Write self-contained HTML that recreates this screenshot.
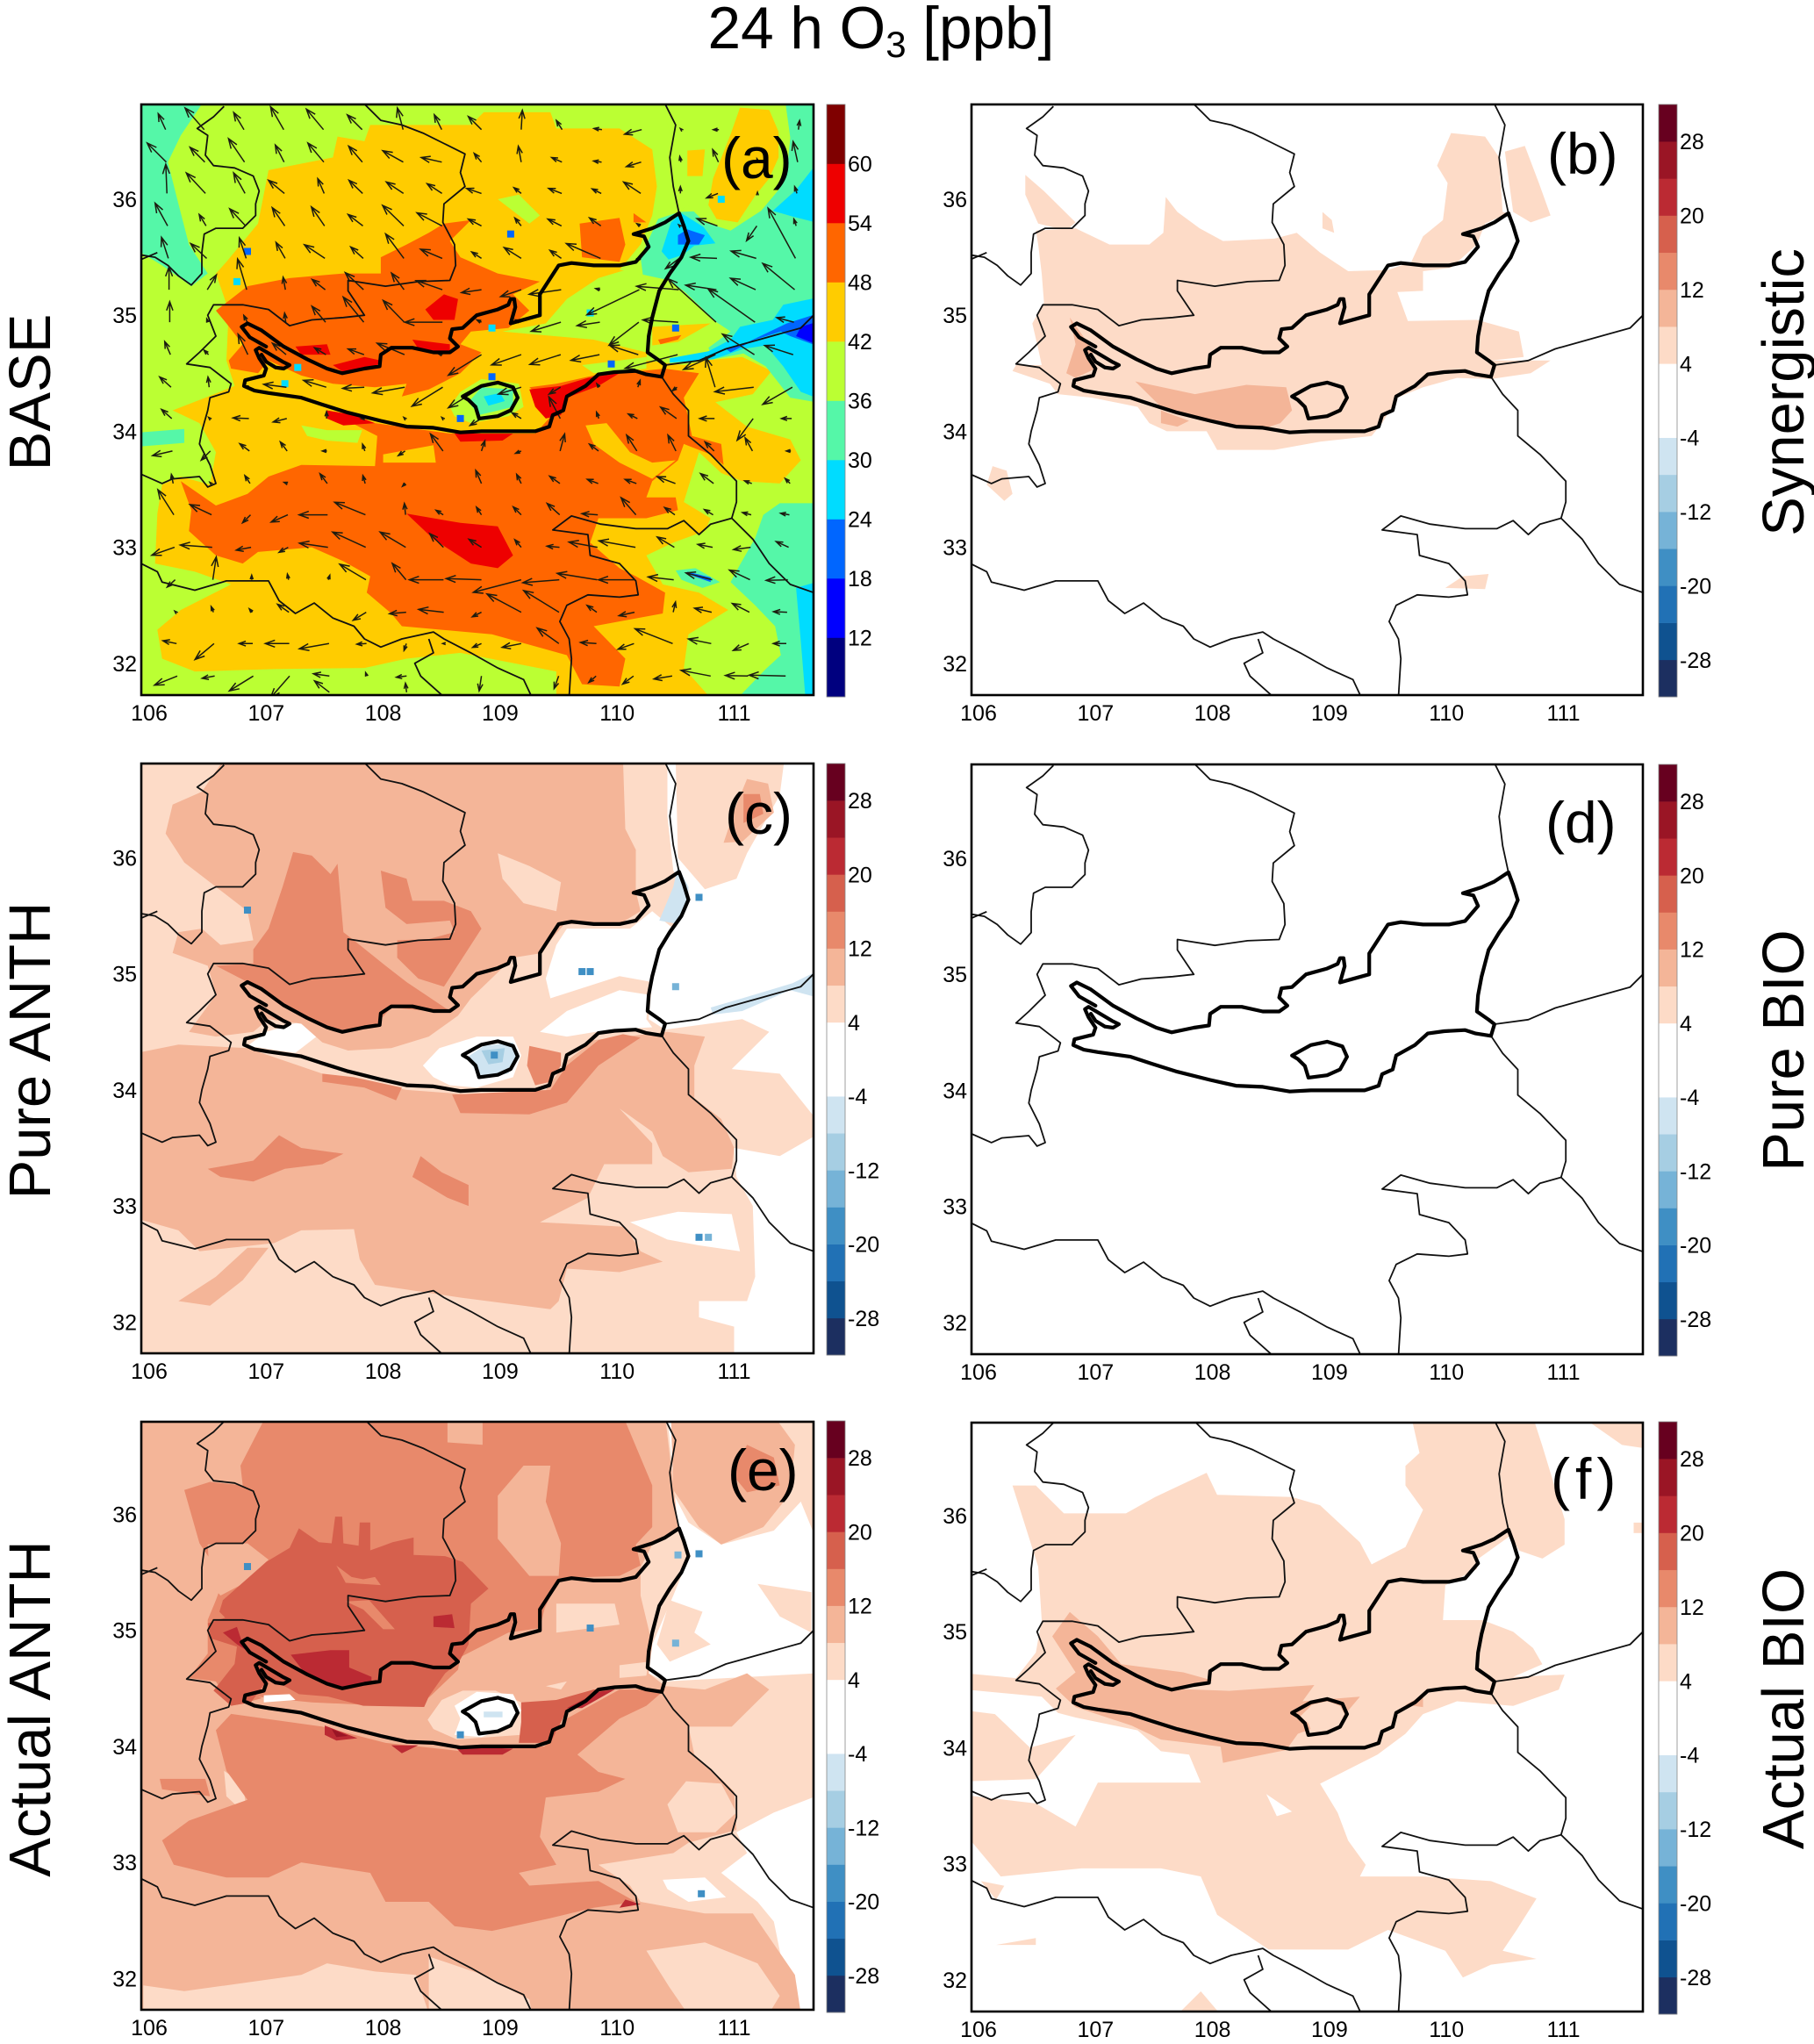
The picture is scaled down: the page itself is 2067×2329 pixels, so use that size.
<!DOCTYPE html>
<html>
<head>
<meta charset="utf-8">
<title>24 h O3</title>
<style>
html,body{margin:0;padding:0;background:#fff;}
svg{display:block;font-family:"Liberation Sans",sans-serif;}
</style>
</head>
<body>
<svg id="fig" xmlns="http://www.w3.org/2000/svg" width="2067" height="2329" viewBox="0 0 2067 2329">
<rect width="2067" height="2329" fill="#fff"/>
<g id="panels"></g>
<text x="1004" y="55" font-size="67.5" text-anchor="middle">24 h O<tspan font-size="42" dy="10">3</tspan><tspan dy="-10"> [ppb]</tspan></text>
<text transform="translate(57,447) rotate(-90)" font-size="67" text-anchor="middle">BASE</text>
<text transform="translate(57,1197) rotate(-90)" font-size="67" text-anchor="middle">Pure ANTH</text>
<text transform="translate(57,1947) rotate(-90)" font-size="67" text-anchor="middle">Actual ANTH</text>
<text transform="translate(2055,447) rotate(-90)" font-size="67" text-anchor="middle">Synergistic</text>
<text transform="translate(2055,1197) rotate(-90)" font-size="67" text-anchor="middle">Pure BIO</text>
<text transform="translate(2055,1947) rotate(-90)" font-size="67" text-anchor="middle">Actual BIO</text>
<text x="822" y="203" font-size="66">(a)</text>
<text x="1763" y="198" font-size="66">(b)</text>
<text x="826" y="950" font-size="66">(c)</text>
<text x="1761" y="960" font-size="66">(d)</text>
<text x="829" y="1698" font-size="66">(e)</text>
<text x="1767" y="1708" font-size="66" letter-spacing="6">(f)</text>
</svg>
<script>
// Axis ticks
const lonTicks=[106,107,108,109,110,111];
const latTicks=[36,35,34,33,32];
// Colour scale labels
const baseLevels=[12,18,24,30,36,42,48,54,60];
const diffLevels=[28,20,12,4,-4,-12,-20,-28];
const baseColors=['#00007f','#0000ff','#0066ff','#00dcff','#55f7a8','#bbff33','#ffcc00','#ff6600','#ee0000','#7f0000'];
const diffColors=['#1c2f60','#0f5290','#2171b5','#3f8fc4','#76b3d7','#a6cee3','#cfe4f1','#ffffff','#ffffff','#fddbc7','#f4b598','#e8896b','#d6604d','#bb2a33','#9a1525','#67001f'];

// Geographic outlines [lon,lat,...]
const basinOutline=[106.84,34.93,106.96,34.87,107.15,34.73,107.35,34.62,107.52,34.54,107.65,34.50,107.84,34.54,107.97,34.56,107.98,34.66,108.07,34.72,108.25,34.72,108.43,34.68,108.57,34.68,108.64,34.73,108.57,34.80,108.59,34.88,108.68,34.89,108.80,35.00,108.98,35.05,109.07,35.09,109.09,35.14,109.12,35.14,109.13,35.07,109.09,34.93,109.16,34.95,109.34,35.00,109.34,35.18,109.41,35.29,109.50,35.43,109.61,35.45,109.80,35.43,110.02,35.43,110.16,35.46,110.27,35.59,110.23,35.68,110.14,35.70,110.30,35.75,110.41,35.80,110.53,35.88,110.57,35.77,110.61,35.64,110.55,35.50,110.45,35.36,110.36,35.21,110.30,34.98,110.27,34.82,110.26,34.68,110.36,34.61,110.41,34.57,110.38,34.47,110.25,34.49,110.16,34.52,109.98,34.51,109.84,34.49,109.73,34.39,109.57,34.30,109.54,34.18,109.45,34.14,109.42,34.04,109.30,34.00,109.07,34.00,108.84,34.00,108.66,33.99,108.43,34.03,108.20,34.04,107.98,34.09,107.70,34.16,107.48,34.23,107.30,34.29,107.02,34.33,106.90,34.35,106.81,34.39,106.82,34.44,106.98,34.48,107.00,34.54,106.94,34.63,106.91,34.70,106.94,34.72,106.99,34.69,107.14,34.60,107.20,34.57,107.15,34.54,107.08,34.55,107.00,34.60,106.96,34.66];
const basinArm=[106.84,34.93,106.79,34.90,106.86,34.81,107.00,34.73];
const cityLoop=[108.68,34.30,108.84,34.39,108.98,34.42,109.11,34.38,109.15,34.29,109.09,34.18,108.98,34.13,108.82,34.11,108.79,34.21,108.73,34.27,108.68,34.30];
const border1=[106.64,36.80,106.55,36.71,106.41,36.61,106.50,36.55,106.48,36.38,106.55,36.29,106.73,36.27,106.89,36.20,106.94,36.07,106.91,35.96,106.91,35.86,106.80,35.75,106.57,35.75,106.47,35.70,106.45,35.54,106.45,35.36,106.36,35.26,106.25,35.34,106.16,35.43,106.05,35.50,105.93,35.52];
const border1b=[105.93,35.48,106.07,35.54];
const border2=[107.84,36.82,107.98,36.68,108.16,36.64,108.34,36.57,108.52,36.48,108.70,36.39,108.66,36.23,108.70,36.11,108.52,35.96,108.51,35.80,108.61,35.61,108.62,35.43,108.57,35.30,108.30,35.29,108.02,35.25,107.70,35.30,107.70,35.21,107.84,35.00,107.66,34.98,107.39,34.96,107.20,34.91,107.02,35.05,106.80,35.09,106.55,35.09,106.50,35.00,106.57,34.82,106.43,34.68,106.32,34.58,106.52,34.55,106.70,34.41,106.68,34.34,106.52,34.29,106.50,34.18,106.45,34.00,106.43,33.89,106.52,33.71,106.57,33.55,106.50,33.52,106.43,33.61,106.20,33.59,106.11,33.55,105.93,33.63];
const border3=[110.41,36.82,110.50,36.64,110.45,36.36,110.48,36.11,110.53,35.88];
const border4=[110.41,34.57,110.70,34.61,110.93,34.71,111.25,34.80,111.57,34.89,111.68,35.00];
const border5=[110.38,34.47,110.48,34.32,110.61,34.18,110.61,33.96,110.80,33.80,111.02,33.57,111.02,33.39,110.98,33.25,111.16,33.07,111.30,32.86,111.48,32.68,111.68,32.61];
const border6=[110.98,33.25,110.80,33.20,110.70,33.11,110.57,33.23,110.43,33.16,110.16,33.16,109.86,33.20,109.61,33.27,109.45,33.15,109.75,33.11,109.77,32.93,110.02,32.86,110.16,32.71,110.18,32.59,110.02,32.57,109.75,32.59,109.57,32.50,109.51,32.36,109.59,32.21,109.61,32.04,109.59,31.71];
const border7=[105.93,32.86,106.07,32.79,106.11,32.70,106.39,32.63,106.66,32.71,107.02,32.71,107.11,32.54,107.25,32.43,107.41,32.52,107.57,32.39,107.75,32.32,107.84,32.21,107.98,32.14,108.16,32.21,108.43,32.27,108.52,32.21,108.75,32.09,108.98,31.96,109.20,31.86,109.27,31.71];
const border8=[108.39,32.21,108.43,32.09,108.27,32.00,108.32,31.89,108.52,31.71];

// Panel (a) contour regions [lon,lat,...]
const aYellow=[107.02,36.25,107.57,36.36,107.61,36.54,107.84,36.50,107.89,36.64,108.75,36.64,108.86,36.75,109.43,36.75,109.48,36.61,110.02,36.61,110.30,36.43,110.34,36.11,110.30,35.86,110.20,35.61,110.02,35.39,110.30,35.36,110.25,34.61,110.57,34.57,110.75,34.61,111.07,34.64,111.32,34.52,111.16,34.32,110.84,34.25,111.11,34.04,111.48,33.93,111.57,33.75,111.39,33.55,111.07,33.57,110.89,33.64,110.70,33.82,110.57,33.39,110.80,33.25,110.75,33.14,110.48,33.04,110.25,32.93,110.39,32.68,110.70,32.61,110.95,32.46,110.61,32.25,110.57,31.96,110.80,31.70,109.48,31.70,109.48,31.93,108.66,32.09,108.20,32.04,107.84,31.96,107.07,31.95,106.39,31.93,106.11,32.04,106.07,32.29,106.27,32.46,106.70,32.68,106.39,32.79,106.05,32.86,106.07,33.29,106.11,33.54,106.27,33.61,106.52,33.54,106.57,33.82,106.43,34.07,106.20,34.18,106.48,34.29,106.73,34.39,106.66,34.61,106.68,35.04,106.57,35.36,106.66,35.46,106.93,35.79];
const aRing=[110.39,36.82,111.44,36.82,111.48,36.53,111.45,36.23,111.38,36.08,111.23,35.90,110.97,35.73,110.75,35.80,110.60,35.95,110.53,35.89,110.45,36.56];
const aBlobYellow=[111.05,36.79,111.30,36.77,111.38,36.58,111.38,36.36,111.30,36.18,111.18,36.03,111.03,35.80,110.85,35.83,110.78,35.95,110.82,36.18,110.88,36.33,110.97,36.56];
const aSmallYellow=[110.60,36.42,110.75,36.43,110.73,36.20,110.60,36.20];
const aLime1=[110.30,35.46,109.84,35.32,109.57,35.14,109.39,34.93,109.02,34.86,109.80,34.79,110.25,34.68,110.30,34.96];
const aLime2=[108.57,34.21,108.66,34.34,108.84,34.45,109.16,34.41,109.20,34.21,109.07,34.13,108.75,34.07,108.61,34.13];
const aLime3=[108.98,36.00,109.16,36.04,109.34,35.86,109.25,35.79];
const aLime4=[110.02,34.61,110.25,34.64,110.25,34.54,109.80,34.50,109.70,34.57];
const aLime5=[107.30,34.05,107.52,34.01,107.82,34.01,107.78,33.90,107.52,33.92,107.35,33.96];
const aTeal1=[105.93,36.82,106.45,36.82,106.27,36.55,106.16,36.32,106.25,35.96,106.34,35.61,106.50,35.36,106.36,35.25,106.11,35.43,105.93,35.54];
const aTeal2=[111.34,36.82,111.70,36.82,111.70,34.25,111.48,34.29,111.27,34.56,111.08,34.67,110.82,34.62,110.78,34.72,110.97,34.86,110.85,34.94,110.58,35.20,110.45,35.30,110.22,35.35,110.20,35.50,110.35,35.83,110.53,35.89,110.75,35.90,111.00,36.30];
const aTeal3=[111.70,33.38,111.39,33.38,111.25,33.28,111.18,33.08,111.05,32.85,110.97,32.70,111.18,32.50,111.35,32.32,111.40,32.07,111.27,31.95,111.03,31.70,111.70,31.70];
const aTeal4=[105.93,33.99,106.30,34.02,106.30,33.90,105.93,33.87];
const aTealSpot=[110.50,32.80,110.67,32.82,110.88,32.70,110.73,32.65,110.55,32.72];
const aBlueSpot=[110.60,32.79,110.80,32.74,110.80,32.70,110.60,32.77];
const aCyanRight=[111.53,32.65,111.70,32.70,111.70,31.70,111.61,31.70,111.57,32.19];
const aCyan1=[110.45,34.63,110.78,34.69,110.97,34.79,111.05,34.90,111.33,34.96,111.42,35.09,111.70,35.15,111.70,34.29,111.57,34.34,111.42,34.56,111.27,34.74,111.08,34.71,110.82,34.62,110.45,34.59];
const aBlue1=[110.93,34.71,111.12,34.77,111.45,34.93,111.70,35.01,111.70,34.74,111.48,34.82,111.40,34.86,111.18,34.79,110.97,34.68];
const aDeep1=[111.57,34.90,111.70,34.94,111.70,34.75,111.53,34.82];
const aCyan2=[110.55,35.88,110.74,35.76,110.84,35.62,110.66,35.60,110.56,35.52,110.44,35.48,110.38,35.55,110.46,35.80];
const aCyan3=[111.33,35.90,111.53,36.08,111.70,36.30,111.70,35.80,111.50,35.85];
const aBlue2=[110.52,35.69,110.60,35.74,110.75,35.69,110.70,35.61,110.59,35.61,110.52,35.61];
const aYellow4=[110.30,34.90,110.80,34.93,110.52,34.77,110.30,34.74];
const aOrange5=[110.35,34.79,110.55,34.83,110.52,34.79,110.37,34.75];
const aOrange1=[106.70,35.14,106.84,35.25,107.20,35.32,107.66,35.36,107.98,35.36,107.98,35.50,108.20,35.61,108.39,35.71,108.52,35.79,108.75,35.82,108.57,35.64,108.66,35.50,108.98,35.36,109.34,35.29,109.11,35.18,109.25,35.04,109.07,34.89,108.75,34.86,108.66,34.75,108.84,34.68,108.66,34.50,108.39,34.36,108.16,34.30,108.20,34.41,107.93,34.38,107.57,34.41,107.30,34.48,107.02,34.61,106.93,34.50,106.70,34.54,106.68,34.61,106.80,34.75,106.66,34.93,106.57,35.04];
const aOrange2=[107.52,34.18,107.93,34.07,108.57,33.98,109.30,33.98,109.48,34.18,109.25,34.38,109.48,34.41,109.84,34.49,110.20,34.52,110.41,34.54,110.70,34.50,110.57,34.29,110.64,33.96,110.89,33.89,110.91,33.71,110.80,33.80,110.57,33.89,110.52,33.75,110.30,33.57,110.25,33.43,110.50,33.43,110.52,33.32,110.25,33.25,109.84,33.25,109.77,33.04,110.02,32.82,110.16,32.75,110.41,32.61,110.39,32.43,109.80,32.32,110.07,32.04,110.02,31.80,109.70,31.82,109.57,32.07,108.93,32.25,108.16,32.32,108.07,32.43,107.86,32.61,107.89,32.75,107.66,32.88,107.39,33.00,106.93,32.96,106.80,32.86,106.57,32.93,106.34,33.14,106.36,33.32,106.27,33.57,106.57,33.36,106.84,33.46,107.02,33.61,107.30,33.71,107.93,33.70,107.95,33.96];
const aOrange3=[109.68,35.79,110.02,35.84,110.07,35.61,110.02,35.46,109.70,35.50];
const aOrange4=[110.14,35.88,110.25,35.80,110.14,35.80];
const aYellow2=[108.00,33.80,108.43,33.88,108.45,33.73,108.00,33.73];
const aYellow3=[109.73,34.05,109.91,34.07,110.11,33.82,110.30,33.73,110.50,33.75,110.30,33.59,110.02,33.73,109.80,33.89];
const aRed1=[108.20,33.29,108.66,33.21,108.98,33.18,109.11,32.93,108.98,32.82,108.75,32.86,108.43,33.07];
const aRed2=[108.36,35.05,108.52,35.18,108.64,35.14,108.61,34.96,108.43,34.96];
const aRed3=[107.57,34.57,107.84,34.64,107.98,34.61,107.95,34.57,107.66,34.51];
const aRed4=[107.25,34.73,107.52,34.75,107.55,34.66,107.30,34.66];
const aRed5=[108.25,34.79,108.57,34.75,108.57,34.68,108.30,34.71];
const aRed6=[109.25,34.36,109.52,34.39,109.75,34.46,110.02,34.50,109.84,34.39,109.57,34.29,109.52,34.14,109.39,34.11,109.30,34.21];
const aRed7=[107.52,34.18,107.75,34.14,107.93,34.07,107.66,34.05,107.52,34.11];
const aRed8=[108.61,33.98,109.11,33.98,109.02,33.92,108.66,33.91];
const aLake=[108.73,34.25,108.84,34.38,109.11,34.36,109.11,34.21,108.82,34.14];
const aLakeCyan=[108.86,34.30,109.00,34.33,109.04,34.26,108.90,34.22];
const aDots=[106.84,35.55,2,106.75,35.29,3,109.09,35.70,2,110.50,34.89,2,109.77,35.02,3,108.93,34.89,3,108.93,34.47,2,107.27,34.55,3,107.16,34.41,3,109.95,34.58,2,108.66,34.11,2,111.61,36.11,3,110.89,36.00,3];

// Wind field: grid columns at the north and south of the domain, rows, and vector components
const windLonsNorth=[106.14,106.47,106.81,107.15,107.49,107.82,108.17,108.5,108.84,109.18,109.53,109.87,110.21,110.55,110.87,111.21,111.55];
const windLonsSouth=[106.24,106.56,106.89,107.2,107.54,107.86,108.2,108.52,108.84,109.18,109.5,109.82,110.14,110.47,110.8,111.12,111.44];
const windLats=[36.60,36.32,36.05,35.77,35.49,35.22,34.94,34.66,34.38,34.11,33.83,33.55,33.28,33.00,32.72,32.44,32.17,31.89,31.75];
const windU=[
[-.64,-1.67,-.9,-1.15,-1.5,-1.3,-.5,-.64,-1.15,.1,-.5,-.7,-1.5,-.1,-.5,0,.1],
[-1.67,-1.3,-1.4,-.77,-1.4,-1.2,-1.8,-1.8,-.64,-.25,-.9,-.7,-1.3,-.1,-.5,-.1,-.4],
[-.1,-1.67,-1,-1.4,-.56,-1.2,-1.5,-1.3,-1.3,-.64,-1.15,-.8,-1.5,0,-1,0,-.2],
[-1.1,-.6,-1.4,-1.1,-1.15,-1.3,-1.85,-2.2,-1.15,-.56,-1.2,-1,-.3,-.1,-1.8,-.9,-.2],
[-.6,-1.4,-.6,-.8,-1.8,-1.1,-1.6,-1.9,-.85,-1.5,-1,-3,-.2,-1.2,-2.3,-2.2,-2.4],
[0,.8,-.8,-.2,-1.15,-1.6,-1.1,-2.3,-1.75,-1.8,-2.8,-.4,-4.6,-3.7,-2.7,-2.2,-2.8],
[0,-.1,-.3,-.1,-1.2,-1.8,-1.85,-3.3,-.4,-.5,-2.6,-2,-2.6,-3.1,-4.2,-4.1,-1.5],
[-.5,-.4,-.85,-1.2,-1,-1.4,-2.4,-.4,-2.9,-2.6,-2.7,-2.5,-2.5,-4.6,-2.8,-2.8,-2.5],
[-1,-.1,-.3,-2,-2,-1.9,-2.8,-2.7,-2.9,-2,-1,-.2,.2,-.4,-.8,-3.4,-2.6],
[-.9,-.1,-1.4,-1.2,0,-.3,-.1,-.1,-1,-.8,-1,-.2,-.8,-1.4,-1.3,-1.4,-.9],
[-1.75,-.8,-.85,-.6,-.4,-.2,-.6,-1.1,.3,-.5,.4,-.8,-.9,-.7,-.8,-.64,-.4],
[-.15,-.1,-.45,-.3,-.64,-.2,-.25,0,-.5,-.4,-.9,-.95,-1,-1.6,-1.15,-.64,-.44],
[-1.4,-1.9,-.7,-1.46,-2.5,-2.7,-.1,-.64,-.44,-.7,-1.1,-1.4,-1.3,-.9,-.77,-.77,-.77],
[-2,-2.8,-1.3,-.8,-2.5,-2.9,-2.25,-1.2,-1.1,-.56,-1.1,-2.5,-3.2,-1.5,-1.3,-1.5,-1.1],
[-.7,.3,0,-.1,.13,-2.3,-1.2,-3,-3.1,-4.2,-3.2,-3.5,-3.2,-2.25,-2.3,-1.8,-1.9],
[-.1,-.2,-.25,-1,0,-1.15,-1.46,-2.2,-.8,-3,-3.1,-.85,-1.36,.2,-1.5,-1.5,-1.2],
[-1.2,-1.67,-1.2,-2.1,-2.6,-.85,-.2,-.1,-.77,-1.67,-1.9,-1.4,-1.4,-3.3,-2,-1.36,-1.15],
[-2,-1.1,-2.1,-1.67,-1.4,-.1,-.9,0,-.2,0,-.4,-.64,-.95,-1.6,-2.6,-2,-3.2],
[0,0,0,0,-1.3,0,-.1,0,0,0,0,0,0,0,0,0,0]];
const windV=[
[1.4,1.9,1.5,2,1.8,1.3,1.9,1.3,1.15,1.7,.8,.1,-.4,.1,0,0,.8],
[1.67,1.3,2.05,1.5,1.67,1.4,1,.4,.77,1.4,.4,.1,-.4,.5,1.1,.3,1.8],
[2.56,1.8,1.8,1.15,1.3,1.15,1,.85,.44,.5,.44,.4,1,.6,-.4,.1,.6],
[2,1,1.5,1.6,1.67,1,1.8,1.15,.6,.7,.6,.7,.2,.1,.64,-1.3,.6],
[1.85,1.3,1.8,1.4,1.2,1,2.15,.8,.56,.95,.7,1.3,0,-.9,.1,.64,4.4],
[2,1.3,2.7,1.1,.9,1.5,1.46,.8,-.25,-.6,-.4,.1,-2.2,.3,.4,1,2.3],
[1.8,.3,.6,.8,1.4,2.2,1.9,0,.2,.2,-.8,-.3,-2,.2,3.8,2.9,.4],
[1.15,.4,1.8,1,.6,.5,1,.1,-1.8,-.9,-.85,-.5,.8,-1.2,-1.3,1.8,.8],
[.9,.9,.1,.25,.6,-.1,-.5,-1.67,-1.8,-.6,-.6,.3,.6,-.3,2.6,-.4,-1.5],
[.8,.1,.05,-.3,.6,0,.1,.1,-.6,.5,1.9,.56,.4,1,0,-1.9,0],
[-.4,-.8,.64,.8,0,.6,-.4,1.5,.9,-.2,1.5,.6,1.4,1.4,.8,1.15,0],
[.8,.1,.7,.1,.85,.7,-.25,0,1.15,.8,.64,.36,.36,.6,.87,.23,.44],
[2.2,.9,-.7,-.64,0,1.1,1,.4,.67,.7,1,.1,1.5,.64,.46,.2,.13],
[-.7,.2,-.25,-.44,.36,1.33,1.33,1.2,.7,.67,.1,.46,.56,.9,.25,-.2,.5],
[-.64,2,.4,.5,.4,1.36,1.44,0,.1,-1.1,-.25,.56,0,.25,.6,.85,-.05],
[.1,.5,.3,.7,0,-.7,-.13,.25,-.4,1.6,1.9,.6,-.3,.9,.36,.77,.05],
[.25,-1.4,0,0,-.46,-.05,-.6,0,-.33,-.33,1.36,.1,-.5,1.3,.4,-.6,0],
[-.8,-.2,-1.3,-1.9,.2,.3,-.1,0,-1.3,0,-1.1,-.56,-.7,-.25,.5,.05,.08],
[0,0,0,0,1,0,.8,0,0,0,0,0,0,0,0,0,0]];

// Panel (b)
const bMain=[106.49,35.73,106.83,35.75,107.12,35.61,107.46,35.61,107.58,35.71,107.60,36.02,107.70,35.89,107.89,35.75,108.09,35.64,108.53,35.66,108.72,35.71,108.92,35.54,109.16,35.38,109.50,35.39,109.70,35.46,109.80,35.68,109.97,35.82,110.01,36.14,109.92,36.29,110.04,36.57,110.33,36.54,110.45,36.36,110.48,35.89,110.53,35.88,110.33,35.79,110.26,35.61,110.04,35.41,109.80,35.38,109.80,35.21,109.58,35.20,109.67,34.95,110.26,34.96,110.62,34.86,110.66,34.64,110.38,34.61,110.89,34.61,110.72,34.50,110.38,34.45,110.09,34.46,109.80,34.38,109.58,34.29,109.45,34.07,109.36,33.96,108.92,33.91,108.53,33.84,108.04,33.84,107.95,34.00,107.61,34.00,107.46,34.07,107.36,34.21,106.97,34.29,106.68,34.32,106.61,34.41,106.29,34.52,106.32,34.57,106.54,34.57,106.51,34.71,106.46,34.93,106.56,35.11,106.54,35.36,106.51,35.61];
const bEast=[110.50,36.41,110.67,36.46,110.79,36.14,110.89,35.86,110.72,35.80,110.57,35.89];
const bNw=[106.40,36.21,106.56,36.07,106.83,35.80,106.75,35.73,106.51,35.79,106.40,36.04];
const bSpot1=[108.94,35.89,109.02,35.82,109.04,35.71,108.94,35.75];
const bSpot2=[106.12,33.70,106.24,33.66,106.29,33.46,106.22,33.40,106.07,33.54];
const bSpot3=[110.14,32.75,110.36,32.77,110.33,32.64,109.99,32.65];
const bDark1=[107.34,34.43,107.85,34.32,108.29,34.40,108.63,34.38,108.68,34.18,108.58,34.07,108.43,34.02,108.24,34.02,107.85,34.11,107.56,34.21];
const bDark2=[106.78,34.98,106.97,34.71,107.00,34.54,106.83,34.46,106.75,34.50,106.83,34.75];
const bDark3=[107.56,34.18,107.80,34.09,107.70,34.04,107.56,34.07];

// Panel (c)
const cMain=[105.90,36.85,110.43,36.85,110.43,36.36,110.48,35.89,110.52,35.82,110.57,35.64,110.30,34.93,110.27,34.61,110.41,34.52,111.07,34.61,111.30,34.50,110.98,34.18,111.39,34.14,111.70,33.75,111.70,33.61,111.39,33.43,111.00,33.50,111.02,33.25,111.16,33.00,111.18,32.39,111.11,32.18,110.70,32.18,110.70,32.04,111.00,31.96,111.00,31.70,105.90,31.70];
const cNe=[110.50,36.85,111.43,36.85,111.39,36.54,111.11,36.04,111.02,35.82,110.75,35.73,110.52,36.00];
const cWhite1=[109.39,34.96,109.48,35.25,109.57,35.39,110.11,35.39,110.30,35.54,110.48,35.39,110.30,34.93,110.02,34.98,109.43,34.79];
const cWhite2=[109.34,34.50,109.57,34.68,110.02,34.86,110.27,34.82,110.25,34.61,110.30,34.54,109.93,34.52,109.57,34.46];
const cWhite3=[108.34,34.21,108.48,34.36,108.80,34.46,109.11,34.46,109.18,34.30,109.11,34.11,108.80,34.02,108.57,34.04,108.43,34.11];
const cWhite4=[107.00,34.50,107.30,34.59,107.43,34.46,107.25,34.32,106.84,34.38];
const cWhite5=[110.11,32.86,110.52,32.95,110.98,32.93,111.05,32.61,110.70,32.66,110.43,32.71];
const cLake1=[108.73,34.29,108.86,34.38,109.11,34.41,109.15,34.29,109.07,34.14,108.82,34.11,108.77,34.20];
const cLake2=[108.84,34.34,109.04,34.36,109.02,34.24,108.90,34.22];
const cBlue1=[110.52,35.93,110.61,35.75,110.61,35.61,110.52,35.43,110.36,35.46,110.48,35.75];
const cBlue2=[110.80,34.71,111.07,34.79,111.50,34.92,111.70,35.02,111.70,34.80,111.48,34.86,111.07,34.68,110.82,34.65];
const c8North=[106.64,36.85,110.05,36.85,110.07,36.25,110.16,36.07,110.16,35.71,110.20,35.54,110.02,35.43,109.55,35.43,109.43,35.29,109.36,35.18,109.11,35.14,108.75,34.79,108.64,34.64,108.39,34.46,108.07,34.36,107.70,34.34,107.48,34.41,107.30,34.57,107.02,34.61,106.89,34.50,106.57,34.46,106.34,34.50,106.57,34.82,106.50,35.07,106.20,35.18,106.25,35.36,106.45,35.39,106.61,35.25,106.89,35.29,106.84,35.54,106.52,35.79,106.30,35.96,106.14,36.21,106.20,36.46,106.45,36.57];
const c8South=[105.90,34.32,106.25,34.39,106.84,34.36,107.48,34.14,108.20,34.00,108.75,33.96,109.39,34.00,109.57,34.25,109.80,34.43,110.43,34.50,110.75,34.46,110.66,34.21,110.66,33.93,110.89,33.75,111.00,33.50,110.98,33.32,110.61,33.29,110.39,33.43,110.30,33.64,110.02,33.84,110.30,33.54,110.30,33.36,109.89,33.36,109.75,33.07,109.34,32.86,110.07,32.82,110.20,32.61,110.39,32.52,110.02,32.43,109.57,32.46,109.50,32.18,109.43,32.11,108.66,32.21,107.93,32.32,107.80,32.54,107.75,32.80,107.30,32.79,107.07,32.68,106.43,32.61,106.25,32.79,105.90,32.89];
const c8Strip=[106.25,32.18,106.57,32.39,106.84,32.64,107.02,32.64,106.80,32.36,106.52,32.14];
const c8Blob=[111.11,36.68,111.29,36.64,111.34,36.39,111.07,36.14,110.91,36.13,111.02,36.46];
const c4Pale=[108.98,36.04,109.25,35.93,109.52,35.79,109.48,35.54,109.20,35.61,109.02,35.82];
const c12a=[107.23,36.05,107.39,36.02,107.55,35.86,107.61,35.95,107.66,35.36,107.80,35.25,108.02,35.07,108.20,34.93,108.57,34.68,108.39,34.68,108.07,34.71,107.98,34.61,107.95,34.54,107.66,34.50,107.30,34.64,106.84,34.93,106.57,35.07,106.89,35.09,106.89,35.21,107.02,35.39,107.14,35.75];
const c12b=[107.98,35.89,108.20,35.82,108.25,35.63,108.52,35.63,108.75,35.54,108.84,35.39,108.66,35.11,108.52,34.89,108.30,34.96,108.12,35.14,108.12,35.29,108.39,35.30,108.61,35.36,108.57,35.46,108.20,35.43,108.02,35.57];
const c12c=[108.59,33.96,109.43,34.00,109.57,34.21,109.84,34.43,110.05,34.48,110.20,34.45,109.84,34.21,109.57,33.89,109.25,33.79,108.66,33.80];
const c12d=[109.25,34.38,109.52,34.32,109.52,34.21,109.43,34.07,109.30,34.04,109.23,34.21];
const c12e=[107.48,34.14,107.75,34.11,108.16,34.02,108.11,33.91,107.84,34.02,107.48,34.07];
const c12f=[106.50,33.32,106.89,33.39,107.11,33.61,107.30,33.50,107.66,33.45,107.48,33.36,107.16,33.32,106.89,33.21,106.61,33.25];
const c12g=[108.32,33.43,108.50,33.29,108.73,33.18,108.73,33.00,108.55,33.07,108.25,33.25];
const c12h=[111.08,36.55,111.22,36.55,111.25,36.38,111.08,36.30];
const cDots=[110.70,35.66,3,109.77,35.02,3,109.70,35.02,3,110.50,34.89,4,110.70,32.73,3,110.78,32.73,4,106.84,35.55,3,108.95,34.30,3];

// Panel (e)
const eBase4=[105.90,36.85,110.43,36.85,110.52,35.89,110.61,35.62,110.48,35.30,110.30,34.88,110.27,34.63,110.41,34.56,111.70,34.63,111.70,33.57,111.34,33.43,111.02,33.26,111.11,33.08,110.89,32.91,111.20,32.66,111.34,32.49,111.43,32.04,111.52,31.70,105.90,31.70];
const eNe4=[110.50,36.85,111.70,36.85,111.70,35.79,111.57,36.11,111.34,35.86,110.89,35.74,110.61,35.93,110.48,36.18];
const eEp1=[110.45,35.26,110.73,35.16,110.66,34.98,110.80,34.88,110.45,34.73,110.34,34.88];
const eEp2=[111.20,35.40,111.66,35.33,111.66,34.98,111.39,35.12];
const eWhite5=[110.39,32.85,110.75,32.87,110.93,32.70,110.61,32.66,110.43,32.77];
const eMain8=[105.90,36.85,110.41,36.85,110.48,36.25,110.52,35.89,110.30,35.74,110.20,35.54,110.20,35.30,110.30,34.88,110.27,34.63,110.41,34.52,110.75,34.49,111.11,34.63,111.30,34.49,110.98,34.17,110.61,34.17,110.66,33.93,110.89,33.72,111.00,33.61,111.02,33.28,110.61,33.17,110.48,33.08,109.84,32.98,110.11,32.80,110.20,32.66,110.75,32.56,111.16,32.56,111.52,32.03,111.57,31.70,105.90,31.70];
const eNe8=[110.46,36.85,111.34,36.85,111.52,36.60,111.48,36.18,111.25,35.89,110.89,35.74,110.70,35.89,110.48,36.21];
const eValley1=[109.48,35.23,109.98,35.23,110.02,35.05,109.48,34.98];
const eValley2=[110.02,34.70,110.27,34.73,110.25,34.61,110.02,34.59];
const eValley3=[109.39,34.52,109.57,34.56,109.52,34.49];
const eSe4=[110.59,33.70,110.89,33.68,111.02,33.43,110.84,33.26,110.52,33.26,110.43,33.50];
const eLow4=[110.25,32.24,110.75,32.31,111.20,32.13,111.39,31.85,111.30,31.70,110.60,31.70,110.45,31.92];
const eBottom4=[105.95,31.94,106.30,31.89,107.30,32.03,107.52,32.13,107.93,32.06,108.28,32.03,108.39,31.70,105.95,31.70];
const eTri4=[108.39,32.19,108.80,32.05,109.25,31.82,109.27,31.70,108.39,31.70];
const eBand4a=[107.11,34.08,107.48,34.00,107.84,34.00,107.75,33.79,107.66,33.66,107.39,33.86];
const eBand4b=[106.64,33.79,106.80,33.68,106.84,33.40,106.66,33.57];
const eN12=[107.00,36.85,110.05,36.85,110.30,36.25,110.30,35.89,110.16,35.74,110.20,35.56,110.02,35.47,109.50,35.45,109.38,35.19,109.34,35.02,109.07,34.98,108.66,34.77,108.64,34.66,108.39,34.42,108.02,34.35,107.39,34.38,106.98,34.42,106.80,34.37,106.70,34.35,106.57,34.56,106.34,34.59,106.50,34.80,106.50,35.09,106.57,35.26,106.61,35.37,106.57,35.54,106.43,35.75,106.30,36.21,106.52,36.28,106.80,36.25,106.78,36.42];
const eS12=[106.70,34.28,107.48,34.17,108.02,34.03,108.66,33.96,109.38,34.00,109.57,34.24,110.02,34.49,110.41,34.49,110.25,34.35,110.02,34.24,109.66,33.93,109.84,33.78,110.07,33.72,109.84,33.61,109.39,33.56,109.34,33.22,109.48,32.98,109.16,32.91,109.25,32.80,109.84,32.84,110.16,32.66,109.80,32.61,109.43,32.52,108.93,32.41,108.61,32.45,108.39,32.66,108.02,32.66,107.89,32.91,107.30,33.00,107.02,32.87,106.66,32.87,106.21,32.98,106.11,33.19,106.34,33.36,106.84,33.54,106.66,33.79,106.57,34.14];
const eWest12=[106.09,33.72,106.48,33.72,106.52,33.57,106.11,33.63];
const eBlob12=[111.11,36.60,111.34,36.49,111.39,36.25,111.11,36.19,110.98,36.35];
const ePale1=[106.50,35.74,106.84,35.75,107.02,35.61,106.80,35.40,106.61,35.30,106.52,35.40];
const ePale2=[108.98,36.16,109.20,36.42,109.43,36.42,109.39,36.11,109.52,35.75,109.50,35.47,109.25,35.47,108.98,35.79];
const ePale3=[108.55,36.82,108.85,36.82,108.85,36.60,108.55,36.62];
const eBasin8a=[107.68,34.31,108.32,34.33,108.39,34.28,108.43,34.10,108.18,34.07,107.88,34.18];
const eBasin8b=[106.93,34.43,107.43,34.35,107.05,34.38];
const eLakeSurround=[108.38,34.23,108.50,34.40,108.68,34.48,108.96,34.48,109.18,34.38,109.18,34.10,108.63,34.06,108.43,34.15];
const eN16=[106.60,35.16,106.63,35.26,107.00,35.59,107.20,35.71,107.28,35.88,107.45,35.76,107.56,35.75,107.59,35.98,107.65,35.98,107.66,35.75,107.79,35.73,107.80,35.93,107.89,35.93,107.89,35.69,108.00,35.73,108.08,35.76,108.26,35.80,108.26,35.65,108.53,35.64,108.68,35.59,108.90,35.36,108.75,35.23,108.73,34.88,108.65,34.73,108.53,34.63,108.39,34.43,108.35,34.34,107.83,34.35,107.53,34.43,107.28,34.45,107.05,34.58,106.98,34.53,106.87,34.38,106.70,34.35,106.55,34.48,106.73,34.71,106.75,34.86,106.53,34.93,106.50,35.06,106.65,35.11];
const eC16=[109.18,34.38,109.48,34.40,109.80,34.49,109.98,34.49,109.57,34.31,109.43,34.03,109.16,34.03,109.18,34.21];
const eGap12a=[107.60,35.56,107.73,35.46,107.83,35.44,107.93,35.46,107.98,35.39,107.68,35.41];
const eGap12b=[107.68,35.25,107.88,35.26,108.10,35.01,108.00,35.01,107.83,35.18];
const eDark1=[107.21,34.79,107.55,34.83,107.71,34.83,107.71,34.68,107.90,34.60,107.90,34.55,107.65,34.49,107.33,34.63];
const eDark2=[108.43,35.12,108.59,35.14,108.61,35.02,108.43,35.03];
const eDark3=[106.63,34.98,106.75,35.03,106.79,34.91,106.83,34.83,106.75,34.88];
const eDark4=[107.50,34.18,107.78,34.07,107.60,34.05,107.50,34.10];
const eDark4b=[107.56,34.15,107.70,34.09,107.60,34.08];
const eDark5=[108.07,34.01,108.30,34.01,108.16,33.94];
const eDark6=[108.61,34.00,109.11,33.98,109.02,33.93,108.68,33.93];
const eDark7=[109.57,34.33,109.84,34.47,109.98,34.49,109.70,34.33];
const eDark8=[110.07,32.68,110.20,32.64,110.02,32.61];
const eLakeWhite=[108.61,34.35,108.80,34.47,109.11,34.45,109.18,34.31,109.09,34.17,108.84,34.08,108.61,34.10,108.66,34.24];
const eBasinWhite=[106.98,34.44,107.20,34.45,107.25,34.40,106.98,34.38];
const eLakeBlue=[108.86,34.30,109.02,34.30,109.02,34.25,108.86,34.25];
const eDots=[110.70,35.66,3,110.52,35.65,4,109.77,35.02,3,110.50,34.89,4,110.72,32.73,3,106.84,35.55,3,108.66,34.10,3];

// Panel (f)
const fMain=[106.29,36.26,106.49,36.26,106.73,36.02,107.26,36.02,107.51,36.16,107.95,36.37,108.04,36.18,108.68,36.16,108.92,36.09,109.26,35.77,109.36,35.58,109.65,35.73,109.80,36.05,109.65,36.26,109.65,36.43,109.77,36.54,109.70,36.85,110.74,36.85,110.82,36.60,111.01,35.97,111.01,35.75,110.82,35.63,110.62,35.70,110.55,35.83,110.26,35.62,110.26,35.54,109.99,35.40,109.97,35.10,110.31,35.10,110.57,35.00,110.74,34.86,110.82,34.72,110.57,34.61,111.01,34.63,110.96,34.50,110.57,34.36,110.09,34.40,109.80,34.29,109.65,34.12,109.41,33.94,108.92,33.69,109.07,33.44,109.16,33.20,109.31,32.99,109.26,32.89,109.80,32.89,110.38,32.85,110.77,32.70,110.60,32.43,110.48,32.25,110.77,32.18,110.38,32.13,110.14,32.02,109.99,32.25,109.50,32.43,109.16,32.26,108.48,32.26,108.04,32.56,107.90,32.89,107.56,32.96,106.88,32.96,106.19,32.89,105.90,33.24,105.90,33.59,106.49,33.52,106.83,33.32,107.02,33.70,107.90,33.70,107.80,33.94,107.56,33.97,107.36,34.15,106.83,34.26,106.68,34.30,106.54,34.44,105.90,34.50,105.90,34.64,106.32,34.60,106.49,34.82,106.54,35.10,106.51,35.56];
const fLeft=[105.90,34.32,106.14,34.29,106.44,34.00,106.83,34.11,106.68,33.94,106.49,33.73,105.90,33.71];
const fHole=[108.46,33.60,108.68,33.45,108.55,33.41];
const fSpot1=[106.15,32.30,106.49,32.36,106.49,32.30];
const fSpot2=[107.70,31.70,107.90,31.90,108.07,31.70];
const fSpot3=[106.02,32.85,106.22,32.81,106.15,32.69];
const fTopRight=[111.16,36.85,111.70,36.85,111.70,36.58,111.50,36.61];
const fSpot4=[111.60,35.94,111.70,35.94,111.70,35.85,111.60,35.85];
const fDark1=[106.63,34.96,106.78,35.17,107.02,34.96,107.22,34.72,107.75,34.65,108.0,34.58,107.61,34.51,108.14,34.49,108.87,34.54,108.77,34.40,109.26,34.44,109.11,34.26,108.73,34.12,108.63,33.98,108.09,33.87,108.07,34.01,107.56,34.07,107.31,34.19,106.83,34.35,106.66,34.51,106.83,34.65];
const fDark2=[109.65,34.37,109.80,34.45,109.80,34.35];
const fLakePale=[108.75,34.27,108.85,34.37,108.98,34.40,109.09,34.36,109.13,34.29,109.06,34.20,108.98,34.15,108.85,34.13,108.82,34.21];

const LON_PX=133.3, LAT_PX=132.2;
const svgNS='http://www.w3.org/2000/svg';
const root=document.getElementById('panels');

const panelDefs=[
 {id:'a',x0:170,y0:227,left:161,right:927,top:119,bottom:792,barX:942,barTop:119,barH:675,seq:true,base:baseColors[5],
  layers:[[aYellow,6],[aLime1,5],[aLime2,5],[aLime3,5],[aLime4,5],[aLime5,5],[aTeal1,4],[aTeal2,4],[aTeal3,4],[aTeal4,4],[aRing,5],[aBlobYellow,6],[aSmallYellow,6],[aTealSpot,4],[aBlueSpot,2],[aCyanRight,3],[aCyan1,3],[aBlue1,2],[aDeep1,1],[aCyan3,3],[aCyan2,3],[aBlue2,2],[aYellow4,6],[aOrange5,7],[aOrange1,7],[aOrange2,7],[aOrange3,7],[aOrange4,7],[aYellow2,6],[aYellow3,6],[aRed1,8],[aRed2,8],[aRed3,8],[aRed4,8],[aRed5,8],[aRed6,8],[aRed7,8],[aRed8,8],[aLake,4],[aLakeCyan,3]],dots:aDots,wind:true},
 {id:'b',x0:1115,y0:227,left:1107,right:1872,top:119,bottom:792,barX:1890,barTop:119,barH:675,base:'#ffffff',
  layers:[[bMain,9],[bEast,9],[bNw,9],[bSpot1,9],[bSpot2,9],[bSpot3,9],[bDark1,10],[bDark2,10],[bDark3,10]],dots:[]},
 {id:'c',x0:170,y0:977.5,left:161,right:927,top:870,bottom:1542,barX:942,barTop:870,barH:674,base:'#ffffff',
  layers:[[cMain,9],[cNe,9],[cWhite1,8],[cWhite2,8],[cWhite3,8],[cWhite4,8],[cWhite5,8],[cLake1,6],[cLake2,5],[cBlue1,6],[cBlue2,6],[c8North,10],[c8South,10],[c8Strip,10],[c8Blob,10],[c4Pale,9],[c12a,11],[c12b,11],[c12c,11],[c12d,11],[c12e,11],[c12f,11],[c12g,11],[c12h,11]],dots:cDots},
 {id:'d',x0:1115,y0:978,left:1107,right:1872,top:871,bottom:1543,barX:1890,barTop:871,barH:674,base:'#ffffff',layers:[],dots:[]},
 {id:'e',x0:170,y0:1725.5,left:161,right:927,top:1620,bottom:2290,barX:942,barTop:1619,barH:674,base:'#ffffff',
  layers:[[eBase4,9],[eNe4,9],[eEp1,9],[eEp2,9],[eWhite5,8],[eMain8,10],[eNe8,10],[eValley1,9],[eValley2,9],[eValley3,9],[eSe4,9],[eLow4,9],[eBottom4,9],[eTri4,9],[eBand4a,9],[eBand4b,9],[eN12,11],[eS12,11],[eWest12,11],[eBlob12,11],[ePale1,10],[ePale2,10],[ePale3,10],[eBasin8a,10],[eBasin8b,10],[eLakeSurround,9],[eN16,12],[eC16,12],[eGap12a,11],[eGap12b,11],[eDark1,13],[eDark2,13],[eDark3,13],[eDark4,13],[eDark4b,14],[eDark5,13],[eDark6,13],[eDark7,13],[eDark8,13],[eLakeWhite,8],[eBasinWhite,8],[eLakeBlue,6]],dots:eDots},
 {id:'f',x0:1115,y0:1727,left:1107,right:1872,top:1621,bottom:2292,barX:1890,barTop:1620,barH:675,base:'#ffffff',
  layers:[[fMain,9],[fLeft,9],[fSpot1,9],[fSpot2,9],[fSpot3,9],[fTopRight,9],[fSpot4,9],[fHole,8],[fDark1,10],[fDark2,10],[fLakePale,9]],dots:[]}
];

function svgEl(tag,parent){
  const n=document.createElementNS(svgNS,tag);
  parent.appendChild(n);
  return n;
}

panelDefs.forEach(function(p){
  const xs=function(lon){return p.x0+LON_PX*(lon-106);};
  const ys=function(lat){return p.y0+LAT_PX*(36-lat);};
  const toPoints=function(arr){
    let s='';
    for(let i=0;i<arr.length;i+=2){s+=xs(arr[i]).toFixed(1)+','+ys(arr[i+1]).toFixed(1)+' ';}
    return s;
  };
  const colors=p.seq?baseColors:diffColors;

  const group=svgEl('g',root);
  
  

  const clip=svgEl('clipPath',group);
  clip.setAttribute('id','clip-'+p.id);
  const clipRect=svgEl('rect',clip);
  clipRect.setAttribute('x',p.left);
  clipRect.setAttribute('y',p.top);
  clipRect.setAttribute('width',p.right-p.left);
  clipRect.setAttribute('height',p.bottom-p.top);

  const map=svgEl('g',group);
  map.setAttribute('clip-path','url(#clip-'+p.id+')');
  
  

  const bg=svgEl('rect',map);
  bg.setAttribute('x',p.left);
  bg.setAttribute('y',p.top);
  bg.setAttribute('width',p.right-p.left);
  bg.setAttribute('height',p.bottom-p.top);
  bg.setAttribute('fill',p.base);
  
  

  p.layers.forEach(function(layer){
    const poly=svgEl('polygon',map);
    poly.setAttribute('points',toPoints(layer[0]));
    poly.setAttribute('fill',colors[layer[1]]);
    
    
  });

  for(let i=0;i<p.dots.length;i+=3){
    const dot=svgEl('rect',map);
    dot.setAttribute('x',xs(p.dots[i])-4);
    dot.setAttribute('y',ys(p.dots[i+1])-4);
    dot.setAttribute('width',8);
    dot.setAttribute('height',8);
    dot.setAttribute('fill',colors[p.dots[i+2]]);
    
    
  }

  [border1,border1b,border2,border3,border4,border5,border6,border7,border8].forEach(function(b){
    const line=svgEl('polyline',map);
    line.setAttribute('points',toPoints(b));
    line.setAttribute('fill','none');
    line.setAttribute('stroke','#111');
    line.setAttribute('stroke-width','1.8');
    line.setAttribute('stroke-linejoin','round');
    
    
  });

  if(p.wind){
    const firstLat=windLats[0], southLat=windLats[17];
    windLats.forEach(function(lat,r){
      const t=Math.min(1,(firstLat-lat)/(firstLat-southLat));
      windLonsNorth.forEach(function(lonN,c){
        const lon=lonN+(windLonsSouth[c]-lonN)*t;
        const tx=xs(lon), ty=ys(lat);
        const dx=windU[r][c]*13, dy=-windV[r][c]*13;
        const len=Math.hypot(dx,dy);
        if(len<0.5) return;
        const arrow=svgEl('path',map);
        let d='M'+tx.toFixed(1)+' '+ty.toFixed(1)+'L'+(tx+dx).toFixed(1)+' '+(ty+dy).toFixed(1);
        const ux=dx/len, uy=dy/len, hl=Math.min(11,3+len*0.3), hw=hl*0.36;
        const bx=tx+dx-ux*hl, by=ty+dy-uy*hl;
        d+='M'+(bx-uy*hw).toFixed(1)+' '+(by+ux*hw).toFixed(1)+'L'+(tx+dx).toFixed(1)+' '+(ty+dy).toFixed(1)+'L'+(bx+uy*hw).toFixed(1)+' '+(by-ux*hw).toFixed(1);
        arrow.setAttribute('d',d);
        arrow.setAttribute('fill','none');
        arrow.setAttribute('stroke','#1c1c10');
        arrow.setAttribute('stroke-width','1.5');
        
        
      });
    });
  }

  [basinOutline,basinArm,cityLoop].forEach(function(b){
    const line=svgEl('polyline',map);
    line.setAttribute('points',toPoints(b));
    line.setAttribute('fill','none');
    line.setAttribute('stroke','#000');
    line.setAttribute('stroke-width','4.2');
    line.setAttribute('stroke-linejoin','round');
    line.setAttribute('stroke-linecap','round');
    
    
  });

  const frame=svgEl('rect',group);
  frame.setAttribute('x',p.left);
  frame.setAttribute('y',p.top);
  frame.setAttribute('width',p.right-p.left);
  frame.setAttribute('height',p.bottom-p.top);
  frame.setAttribute('fill','none');
  frame.setAttribute('stroke','#000');
  frame.setAttribute('stroke-width','2.6');
  
  

  lonTicks.forEach(function(v){
    const t=svgEl('text',group);
    t.setAttribute('x',xs(v));
    t.setAttribute('y',p.bottom+29);
    t.setAttribute('font-size','25');
    t.setAttribute('text-anchor','middle');
    
    
    t.textContent=v;
  });
  latTicks.forEach(function(v){
    const t=svgEl('text',group);
    t.setAttribute('x',p.left-5);
    t.setAttribute('y',ys(v)+9);
    t.setAttribute('font-size','25');
    t.setAttribute('text-anchor','end');
    
    
    t.textContent=v;
  });

  // Colour bar
  const bar=svgEl('g',group);
  
  
  const n=colors.length, segH=p.barH/n;
  colors.forEach(function(col,i){
    const seg=svgEl('rect',bar);
    seg.setAttribute('x',p.barX);
    seg.setAttribute('y',p.barTop+p.barH-(i+1)*segH);
    seg.setAttribute('width',21);
    seg.setAttribute('height',segH+0.3);
    seg.setAttribute('fill',col);
    
    
  });
  const barBox=svgEl('rect',bar);
  barBox.setAttribute('x',p.barX);
  barBox.setAttribute('y',p.barTop);
  barBox.setAttribute('width',21);
  barBox.setAttribute('height',p.barH);
  barBox.setAttribute('fill','none');
  barBox.setAttribute('stroke','#888');
  barBox.setAttribute('stroke-width','0.8');
  
  
  const levels=p.seq?baseLevels:diffLevels;
  levels.forEach(function(v){
    const frac=p.seq?(v-6)/60:(v+32)/64;
    const yy=p.barTop+p.barH*(1-frac);
    const t=svgEl('text',bar);
    t.setAttribute('x',p.barX+24);
    t.setAttribute('y',yy+9);
    t.setAttribute('font-size','25');
    
    
    t.textContent=v;
  });
});
</script>
</body>
</html>
